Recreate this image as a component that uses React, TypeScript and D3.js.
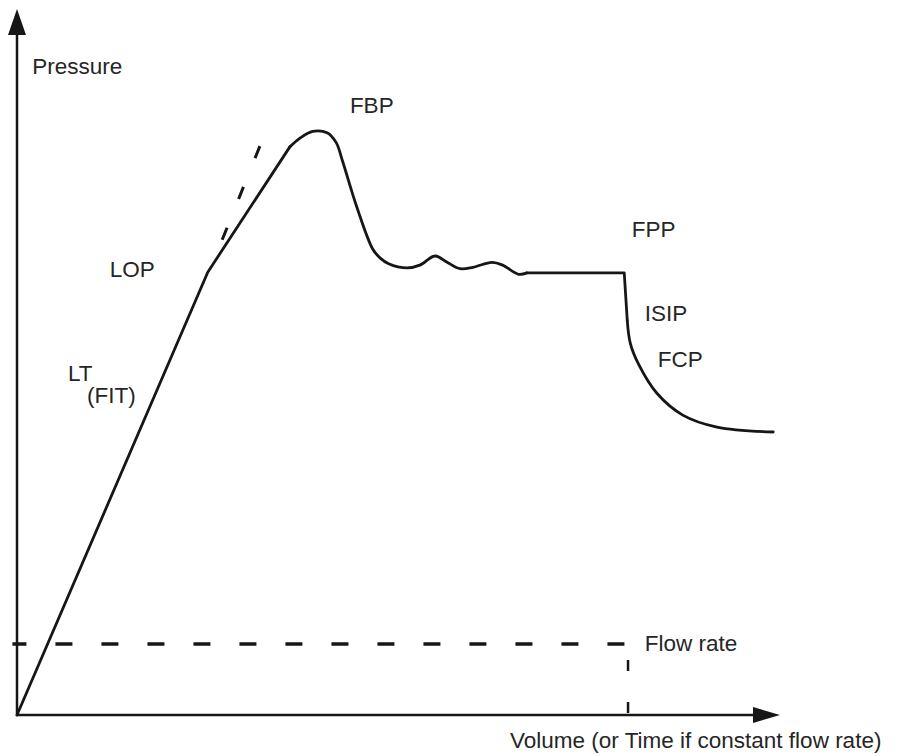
import React from 'react';
import * as d3 from 'd3';

// pressure curve (volume %, pressure %)
const riseCurve: [number, number][] = [[0, 0], [25.1, 62.9], [35.9, 80.7]];
const breakdownCurve: [number, number][] = [
    [35.9, 80.7], [37.2, 81.9], [38.9, 82.9], [40.8, 82.7], [42.0, 81.3], [42.8, 78.8],
    [44.7, 72.2], [46.8, 66.2], [47.8, 64.9], [48.9, 64.1], [51.3, 63.5], [53.0, 63.9], [55.0, 65.2],
    [56.6, 64.3], [58.3, 63.4], [60.0, 63.6], [62.5, 64.3], [63.9, 63.9], [66.0, 62.6], [67.1, 62.8]
];
const plateauCurve: [number, number][] = [[67.1, 62.8], [79.9, 62.8], [80.3, 56.0]];
const declineCurve: [number, number][] = [
    [80.3, 56.0], [80.7, 52.8], [81.8, 49.8], [84.2, 45.7], [87.6, 42.6], [92.1, 40.9], [99.5, 40.2]
];
const tangentLine: [number, number][] = [[27.0, 67.5], [32.4, 82.0]];
const flowRate = 10.1;
const flowStart = -0.6;
const shutIn = 80.4;

const annotations = [
    { text: 'Pressure', x: 2.0, y: 91.0 },
    { text: 'FBP', x: 43.8, y: 85.5 },
    { text: 'LOP', x: 12.2, y: 62.2 },
    { text: 'LT', x: 6.7, y: 47.4 },
    { text: '(FIT)', x: 9.2, y: 44.3 },
    { text: 'FPP', x: 80.9, y: 67.9 },
    { text: 'ISIP', x: 82.6, y: 55.9 },
    { text: 'FCP', x: 84.3, y: 49.4 },
    { text: 'Flow rate', x: 82.6, y: 9.1 },
];
const xLabel = 'Volume (or Time if constant flow rate)';

const W = 897;
const H = 756;
const ink = '#161616';
const font = '"Liberation Sans", Arial, sans-serif';

const App = () => {
    const x = d3.scaleLinear().domain([0, 100]).range([17, 777]);
    const y = d3.scaleLinear().domain([0, 100]).range([715, 11]);

    const linear = d3.line<[number, number]>()
        .x(d => x(d[0]))
        .y(d => y(d[1]));
    const smooth = d3.line<[number, number]>()
        .x(d => x(d[0]))
        .y(d => y(d[1]))
        .curve(d3.curveCatmullRom.alpha(0.5));

    const x0 = x(0), y0 = y(0);
    const xEnd = x.range()[1] + 3;
    const yEnd = y.range()[1] - 2;

    return (
        <svg width={W} height={H} style={{ position: 'absolute', left: 0, top: 0, background: '#fff' }}>
            {/* axes */}
            <line x1={x0} y1={y0 + 1} x2={x0} y2={yEnd + 20} stroke={ink} strokeWidth={2.5} />
            <path d={`M${x0},${yEnd} L${x0 - 9},${yEnd + 26} L${x0 + 9},${yEnd + 26} Z`} fill={ink} />
            <line x1={x0 - 1} y1={y0} x2={xEnd - 20} y2={y0} stroke={ink} strokeWidth={2.5} />
            <path d={`M${xEnd},${y0} L${xEnd - 27},${y0 - 8} L${xEnd - 27},${y0 + 8} Z`} fill={ink} />

            {/* flow rate */}
            <line x1={x(flowStart)} y1={y(flowRate)} x2={x(shutIn)} y2={y(flowRate)}
                stroke={ink} strokeWidth={3.5} strokeDasharray="17 29" strokeDashoffset={3} />
            <line x1={x(shutIn)} y1={y(flowRate)} x2={x(shutIn)} y2={y0}
                stroke={ink} strokeWidth={2.5} strokeDasharray="11 31" strokeDashoffset={26} />

            {/* tangent */}
            <path d={linear(tangentLine) || ''} fill="none" stroke={ink} strokeWidth={3}
                strokeDasharray="13 31" />

            {/* pressure curve */}
            <g fill="none" stroke={ink} strokeWidth={2.8} strokeLinejoin="round" strokeLinecap="round">
                <path d={linear(riseCurve) || ''} />
                <path d={smooth(breakdownCurve) || ''} />
                <path d={linear(plateauCurve) || ''} />
                <path d={smooth(declineCurve) || ''} />
            </g>

            <g fontFamily={font} fontSize={22.5} fill="#262626">
                {annotations.map(a => (
                    <text key={a.text} x={x(a.x)} y={y(a.y)}>{a.text}</text>
                ))}
                <text x={510} y={748}>{xLabel}</text>
            </g>
        </svg>
    );
};

export default App;
